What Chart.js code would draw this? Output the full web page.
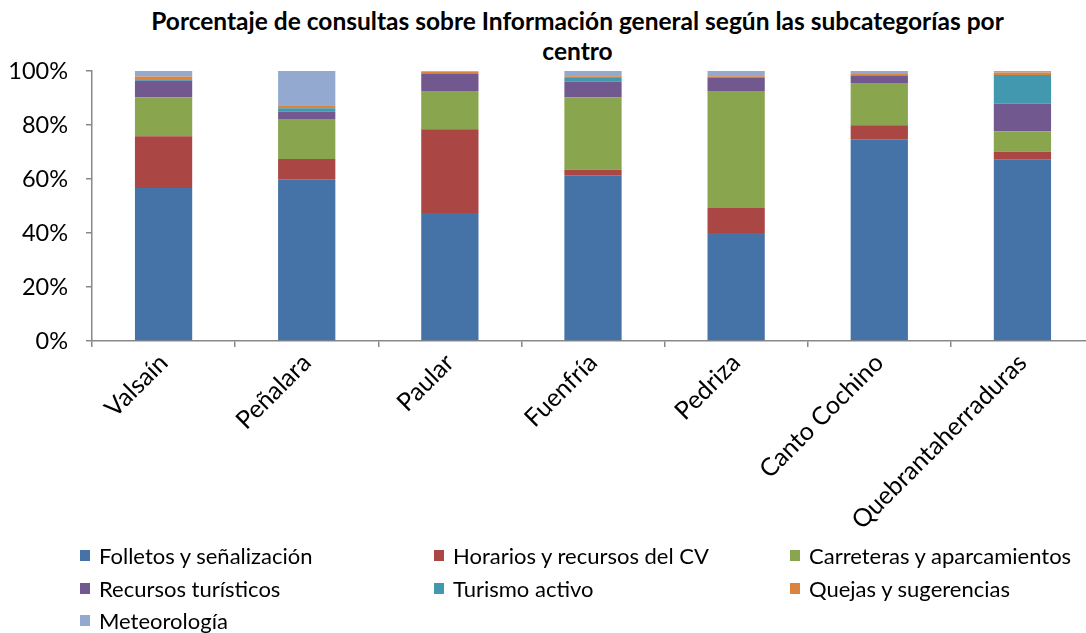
<!DOCTYPE html>
<html>
<head>
<meta charset="utf-8">
<script src="https://cdn.jsdelivr.net/npm/chart.js@4"></script>
<style>
  body { margin: 0; background: #fff; overflow: hidden; width: 1086px; height: 633px; position: relative; font-family: Lato, "Open Sans", sans-serif; }
  #titulo { position: absolute; left: 0; top: 6px; width: 1155px; text-align: center; font-weight: bold; font-size: 24.5px; line-height: 30px; color: #000; }
  #wrap { position: absolute; left: 0; top: 0; width: 1100px; height: 540px; }
  #leyenda { position: absolute; left: 0; top: 0; width: 1086px; height: 633px; pointer-events: none; }
  .item { position: absolute; font-size: 22px; color: #000; white-space: nowrap; display: flex; align-items: center; height: 24px; }
  .item span.box { display: inline-block; width: 10px; height: 11px; margin-right: 9px; }
</style>
</head>
<body>
<div id="titulo">Porcentaje de consultas sobre Información general según las subcategorías por<br>centro</div>
<div id="wrap"><canvas id="grafica" width="1100" height="540"></canvas></div>
<div id="leyenda"></div>
<script>
const centros = ["Valsaín", "Peñalara", "Paular", "Fuenfría", "Pedriza", "Canto Cochino", "Quebrantaherraduras"];

const folletos    = [56.7, 59.9, 47.4, 61.4, 40.0, 74.7, 67.3];
const horarios    = [19.1,  7.5, 31.0,  2.0,  9.3,  5.2,  2.8];
const carreteras  = [14.4, 14.8, 14.2, 26.8, 43.3, 15.7,  7.6];
const recursos    = [ 6.2,  2.7,  6.5,  5.8,  4.9,  2.7, 10.3];
const turismo     = [ 0.5,  1.3,  0.2,  1.4,  0.3,  0.2, 10.5];
const quejas      = [ 1.1,  1.1,  0.5,  0.7,  0.3,  0.4,  0.9];
const meteo       = [ 2.0, 12.7,  0.2,  1.9,  1.9,  1.1,  0.6];

const series = [
  { label: "Folletos y señalización", data: folletos, color: "#4572A7" },
  { label: "Horarios y recursos del CV", data: horarios, color: "#AA4643" },
  { label: "Carreteras y aparcamientos", data: carreteras, color: "#89A54E" },
  { label: "Recursos turísticos", data: recursos, color: "#71588F" },
  { label: "Turismo activo", data: turismo, color: "#4198AF" },
  { label: "Quejas y sugerencias", data: quejas, color: "#DB843D" },
  { label: "Meteorología", data: meteo, color: "#93A9CF" },
];

const ticksY = [0, 20, 40, 60, 80, 100];

document.addEventListener("DOMContentLoaded", () => {
  const ctx = document.getElementById("grafica");

  new Chart(ctx, {
    type: "bar",
    data: {
      labels: centros,
      datasets: series.map(s => ({
        label: s.label,
        data: s.data,
        backgroundColor: s.color,
        borderWidth: 0,
        barPercentage: 0.4,
        categoryPercentage: 1,
      })),
    },
    options: {
      responsive: false,
      animation: false,
      layout: { padding: { top: 71, right: 6, left: 0, bottom: 0 } },
      plugins: {
        legend: { display: false },
        title: { display: false },
        tooltip: { enabled: false },
      },
      scales: {
        x: {
          stacked: true,
          grid: { display: true, drawOnChartArea: false, drawTicks: true, tickLength: 6, color: "#888", lineWidth: 1.5 },
          border: { color: "#888", width: 1.5 },
          ticks: {
            color: "#000",
            font: { family: "Lato", size: 25 },
            maxRotation: 45,
            minRotation: 45,
            padding: 1,
            autoSkip: false,
          },
          afterFit: (scale) => { scale.height = 199; },
        },
        y: {
          stacked: true,
          min: 0,
          max: 100,
          afterBuildTicks: (scale) => { scale.ticks = ticksY.map(v => ({ value: v })); },
          grid: { display: true, drawOnChartArea: false, drawTicks: true, tickLength: 6, color: "#888", lineWidth: 1.5 },
          border: { color: "#888", width: 1.5 },
          ticks: {
            color: "#000",
            font: { family: "Lato", size: 23.5 },
            padding: 18,
            callback: (v) => v + "%",
          },
          afterFit: (scale) => { scale.width = 92; },
        },
      },
    },
  });

  // Leyenda en tres columnas
  const leyenda = document.getElementById("leyenda");
  const colsX = [80, 434, 790];
  const filasY = [543, 576, 608];
  series.forEach((s, i) => {
    const div = document.createElement("div");
    div.className = "item";
    div.style.left = colsX[i % 3] + "px";
    div.style.top = filasY[Math.floor(i / 3)] + "px";
    div.innerHTML = `<span class="box" style="background:${s.color}"></span>${s.label}`;
    leyenda.appendChild(div);
  });
});
</script>
</body>
</html>
